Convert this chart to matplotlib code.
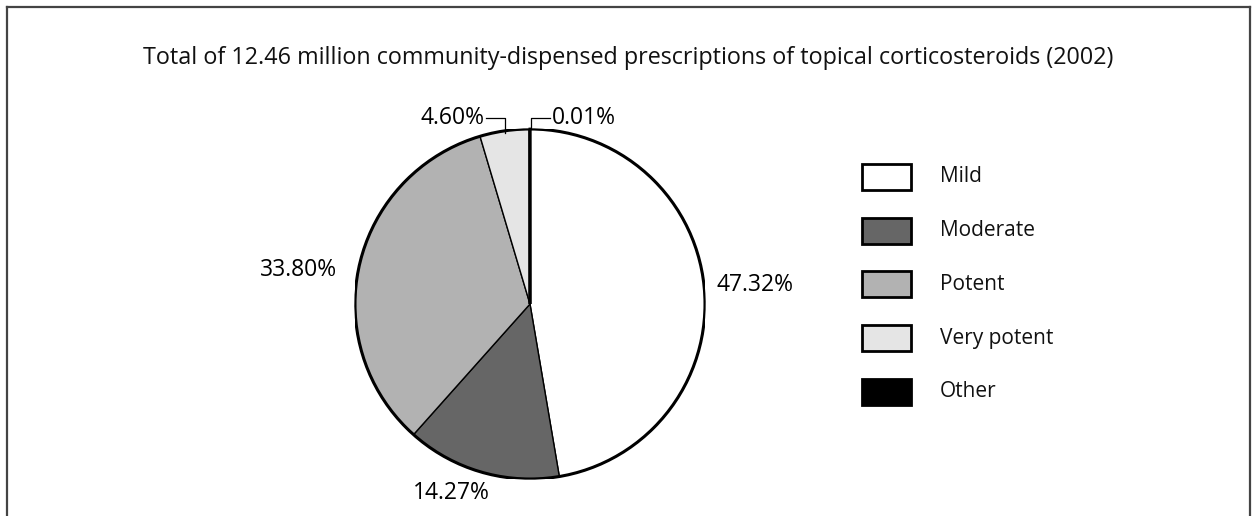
import numpy as np
import matplotlib
matplotlib.use('Agg')
import matplotlib.pyplot as plt
from matplotlib.patches import Rectangle, Circle
from matplotlib.lines import Line2D

# Prescription shares by potency class
categories = ['Mild', 'Moderate', 'Potent', 'Very potent', 'Other']
shares = [47.32, 14.27, 33.80, 4.60, 0.01]
colors = ['#ffffff', '#666666', '#b2b2b2', '#e5e5e5', '#000000']
title = 'Total of 12.46 million community-dispensed prescriptions of topical corticosteroids (2002)'

W, H = 1258, 516
plt.rcParams['font.family'] = ['Open Sans', 'DejaVu Sans']
fig = plt.figure(figsize=(W / 100, H / 100), dpi=100, facecolor='white')


def px(x, y):
    """Pixel position (top-left origin) to figure fraction"""
    return x / W, 1 - y / H


# Frame around the chart (open at the bottom)
frame = [((7, 516), (7, 7)), ((7, 7), (1250, 7)), ((1250, 7), (1250, 516))]
for (x0, y0), (x1, y1) in frame:
    a, b = px(x0, y0)
    c, d = px(x1, y1)
    fig.add_artist(Line2D([a, c], [b, d], color='#444444', lw=1.6))

tx, ty = px(628, 58)
fig.text(tx, ty, title, ha='center', va='center', fontsize=16.8, color='#111111')

# Pie axes: centre (530, 304), radius 175 px
cx, cy, r = 530, 304, 175
l, b = px(cx - r, cy + r)
ax = fig.add_axes([l, b, 2 * r / W, 2 * r / H])
wedges, _ = ax.pie(shares, colors=colors, startangle=90, counterclock=False,
                   radius=1.0, wedgeprops=dict(edgecolor='black', linewidth=1.0))
wedges[-1].set_linewidth(2.0)
ax.add_patch(Circle((0, 0), 1.0, fill=False, edgecolor='black', lw=2.2))
ax.set_xlim(-1, 1)
ax.set_ylim(-1, 1)
ax.set_aspect('auto')
ax.axis('off')

# Percentage labels: (distance, ha, angle nudge) per wedge; small slices get leader lines
PFS = 16.5
label_opts = [(1.29, 'center', 0), (1.17, 'center', -6.4), (1.12, 'right', 2.6),
              (None, 'right', 0), (None, 'left', 0)]
for w, val, (dist, ha, dth) in zip(wedges, shares, label_opts):
    mid = np.deg2rad((w.theta1 + w.theta2) / 2 + dth)
    text = '{:.2f}%'.format(val)
    if dist is not None:
        ax.text(dist * np.cos(mid), dist * np.sin(mid), text, ha=ha, va='center',
                fontsize=PFS, clip_on=False)
    else:
        x0, y0 = 0.985 * np.cos(mid), 0.985 * np.sin(mid)
        if ha == 'left':
            x0, y0 = 0.005, 1.0
        ytop = 1.065
        side = -1 if ha == 'right' else 1
        xs = [x0, x0, x0 + side * 0.11]
        ys = [y0, ytop, ytop]
        ax.add_line(Line2D(xs, ys, color='black', lw=0.9, clip_on=False))
        ax.text(xs[-1] + side * 0.01, ytop, text, ha=ha, va='center',
                fontsize=PFS, clip_on=False)

# Legend drawn as boxes with labels
for i, (name, col) in enumerate(zip(categories, colors)):
    y = 177 + i * 53.7
    x0, y0 = px(862, y + 13)
    fig.add_artist(Rectangle((x0, y0), 49 / W, 26 / H, facecolor=col,
                             edgecolor='black', lw=2.0, transform=fig.transFigure))
    lx, ly = px(940, y)
    fig.text(lx, ly, name, ha='left', va='center', fontsize=15, color='#111111')

fig.savefig('out.png', dpi=100, facecolor='white')
